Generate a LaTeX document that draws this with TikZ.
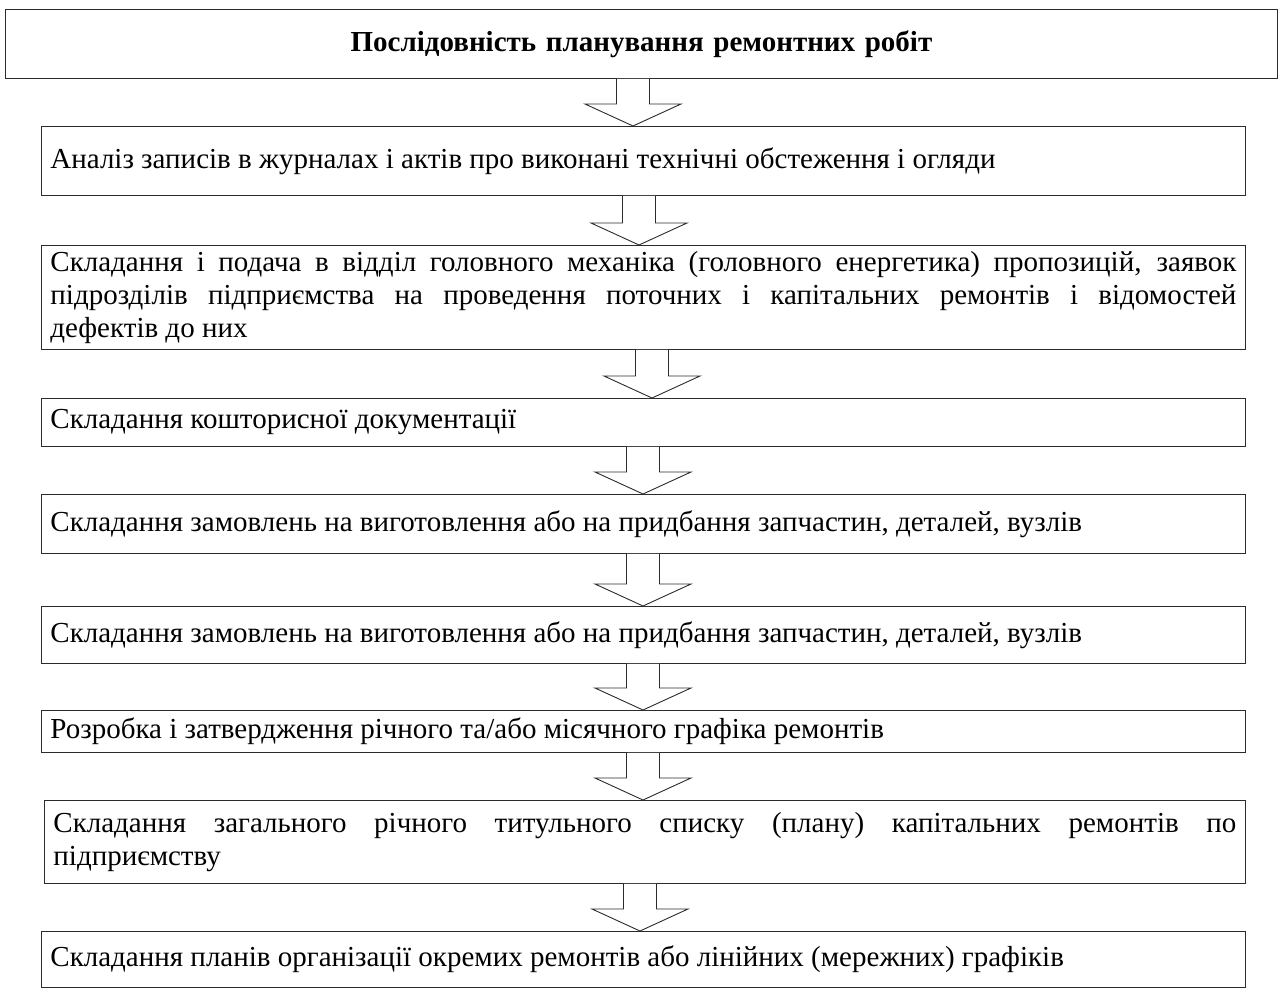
\documentclass[tikz,border=0pt]{standalone}
\usepackage{fontspec}
\setmainfont{Liberation Serif}
\usepackage{xcolor}
\usepackage{tikz}
\usetikzlibrary{calc}
\definecolor{SeqLine}{HTML}{2B2B2B}

\tikzset{
  stepbox/.style={draw=SeqLine,line width=0.9pt,anchor=north west,inner xsep=9pt,inner ysep=0pt,
    font=\fontsize{29}{33}\selectfont,align=justify},
  titlebox/.style={stepbox,align=center,font=\fontsize{29}{33}\selectfont\bfseries},
  blockarrow/.style={draw=SeqLine,line width=0.9pt,fill=white,line join=miter}
}
% block arrow: from node, to node, centre x
\newcommand{\seqarrow}[3]{%
  \draw[blockarrow] let \p1=(#1.south), \p2=(#2.north) in
    (#3pt-16.5pt,\y1) -- (#3pt-16.5pt,\y2+22pt) -- (#3pt-48pt,\y2+22pt) -- (#3pt,\y2)
    -- (#3pt+48pt,\y2+22pt) -- (#3pt+16.5pt,\y2+22pt) -- (#3pt+16.5pt,\y1);}

\begin{document}
\begin{tikzpicture}[x=1pt,y=-1pt]
\path[use as bounding box] (0,0) rectangle (1283,996);
\node[titlebox,minimum width=1272pt,minimum height=69pt,text width=1254pt] (head) at (5,9) {Послідовність планування ремонтних робіт};
\node[stepbox,minimum width=1204pt,minimum height=69pt,text width=1186pt] (s1) at (41,126) {Аналіз записів в журналах і актів про виконані технічні обстеження і огляди};
\node[stepbox,minimum width=1204pt,minimum height=104pt,text width=1186pt] (s2) at (41,245) {Складання і подача в відділ головного механіка (головного енергетика) пропозицій, заявок\linebreak підрозділів підприємства на проведення поточних і капітальних ремонтів і відомостей\linebreak дефектів до них};
\node[stepbox,minimum width=1204pt,minimum height=48pt,text width=1186pt] (s3) at (41,398) {Складання кошторисної документації};
\node[stepbox,minimum width=1204pt,minimum height=59pt,text width=1186pt] (s4) at (41,494) {Складання замовлень на виготовлення або на придбання запчастин, деталей, вузлів};
\node[stepbox,minimum width=1204pt,minimum height=57pt,text width=1186pt] (s5) at (41,606) {Складання замовлень на виготовлення або на придбання запчастин, деталей, вузлів};
\node[stepbox,minimum width=1204pt,minimum height=42pt,text width=1186pt] (s6) at (41,710) {Розробка і затвердження річного та/або місячного графіка ремонтів};
\node[stepbox,minimum width=1201pt,minimum height=83pt,text width=1183pt] (s7) at (44,800) {Складання загального річного титульного списку (плану) капітальних ремонтів по\linebreak підприємству};
\node[stepbox,minimum width=1204pt,minimum height=56pt,text width=1186pt] (s8) at (41,931) {Складання планів організації окремих ремонтів або лінійних (мережних) графіків};
\seqarrow{head}{s1}{633}
\seqarrow{s1}{s2}{639}
\seqarrow{s2}{s3}{652}
\seqarrow{s3}{s4}{643}
\seqarrow{s4}{s5}{643}
\seqarrow{s5}{s6}{643}
\seqarrow{s6}{s7}{643}
\seqarrow{s7}{s8}{640}
\end{tikzpicture}
\end{document}
